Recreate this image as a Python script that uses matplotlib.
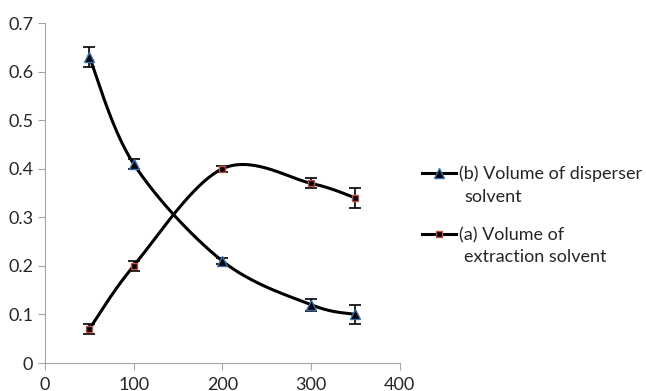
"""Extraction efficiency vs solvent volume, Excel-style smoothed curves."""
import matplotlib

matplotlib.use("Agg")
import matplotlib.pyplot as plt
import numpy as np

plt.rcParams["font.family"] = ["Lato", "DejaVu Sans"]

volume = [50, 100, 200, 300, 350]
disperser = [0.63, 0.41, 0.21, 0.12, 0.10]
disperser_err = [0.02, 0.01, 0.007, 0.012, 0.02]
extraction = [0.07, 0.20, 0.40, 0.37, 0.34]
extraction_err = [0.01, 0.01, 0.006, 0.01, 0.02]
labels = [("(b) Volume of disperser", "solvent"),
          ("(a) Volume of", "extraction solvent")]


def _smooth(x, y, xr=400.0, yr=0.7, n=40):
    """Excel-like Bezier smoothing through the points."""
    px = np.asarray(x, float) / xr
    py = np.asarray(y, float) / yr
    pts = np.column_stack([px, py])
    ext = np.vstack([pts[0], pts, pts[-1]])
    out = []
    for i in range(len(pts) - 1):
        p0, p1, p2, p3 = ext[i], ext[i + 1], ext[i + 2], ext[i + 3]
        c1 = p1 + (p2 - p0) / 6
        c2 = p2 - (p3 - p1) / 6
        t = np.linspace(0, 1, n)[:, None]
        seg = ((1 - t) ** 3) * p1 + 3 * ((1 - t) ** 2) * t * c1 + 3 * (1 - t) * t**2 * c2 + t**3 * p2
        out.append(seg)
    curve = np.vstack(out)
    return curve[:, 0] * xr, curve[:, 1] * yr


fig = plt.figure(figsize=(6.46, 3.91), dpi=100)
ax = fig.add_axes([0.0697, 0.0716, 0.549, 0.8694])

series = [
    (disperser, disperser_err, "^", "#3a6fb0", 7, labels[0][0]),
    (extraction, extraction_err, "s", "#c0504d", 5, labels[1][0]),
]
for vals, errs, marker, edge, ms, label in series:
    sx, sy = _smooth(volume, vals)
    ax.plot(sx, sy, color="black", lw=2.2, zorder=2)
    ax.errorbar(volume, vals, yerr=errs, fmt="none", ecolor="black",
                elinewidth=1.2, capsize=4, capthick=1.2, zorder=3)
    ax.plot(volume, vals, ls="none", marker=marker, ms=ms,
            mfc="black", mec=edge, mew=1, zorder=4)
    ax.plot([], [], color="black", lw=2.2, marker=marker, ms=ms,
            mfc="black", mec=edge, mew=1, label=label)

ax.set_xlim(0, 400)
ax.set_ylim(0, 0.7)
ax.set_xticks([0, 100, 200, 300, 400])
ax.set_yticks(np.arange(0, 0.71, 0.1))
ax.set_yticklabels(["0", "0.1", "0.2", "0.3", "0.4", "0.5", "0.6", "0.7"])
for side in ("top", "right"):
    ax.spines[side].set_visible(False)
for side in ("left", "bottom"):
    ax.spines[side].set_color("#a6a6a6")
ax.tick_params(colors="#a6a6a6", labelcolor="#262626", labelsize=13, length=5)
ax.tick_params(axis="x", pad=5)

leg = fig.legend(loc="upper left", bbox_to_anchor=(0.653, 0.577), frameon=False,
                 fontsize=13, handlelength=1.9, handletextpad=0.15,
                 labelspacing=2.5, borderpad=0, borderaxespad=0)
fig.text(464 / 646, 1 - 197 / 391, labels[0][1], fontsize=13, va="center", color="#262626")
fig.text(464 / 646, 1 - 257 / 391, labels[1][1], fontsize=13, va="center", color="#262626")
for t in leg.get_texts():
    t.set_color("#262626")

fig.savefig("out.png", dpi=100)
